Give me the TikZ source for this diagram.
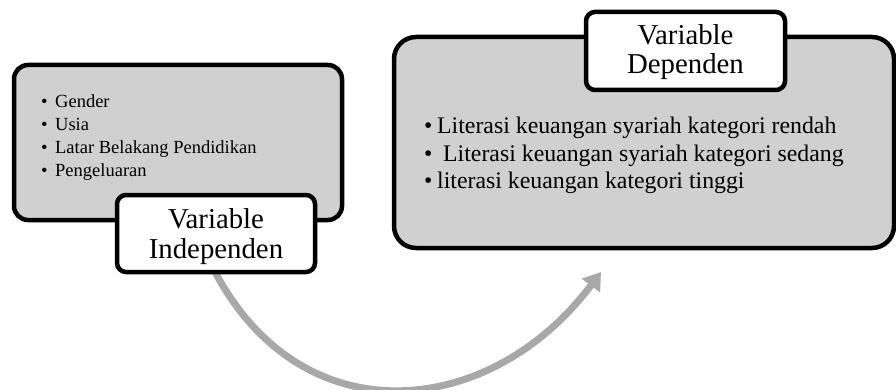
\documentclass[tikz,border=0pt]{standalone}
\usepackage{fontspec}
\setmainfont{Liberation Serif}
\usetikzlibrary{arrows.meta}
\definecolor{boxgray}{RGB}{208,208,208}
\definecolor{arrgray}{RGB}{168,168,168}
\tikzset{
  bigbox/.style={draw=black, fill=boxgray, line width=4.5pt, rounded corners=14pt, inner sep=0pt},
  labelbox/.style={draw=black, fill=white, line width=4.5pt, rounded corners=9pt, inner sep=0pt},
  smalltxt/.style={anchor=base west, inner sep=0pt, font=\fontsize{18.5}{22}\selectfont},
  midtxt/.style={anchor=base west, inner sep=0pt, font=\fontsize{23.8}{27}\selectfont},
  labtxt/.style={anchor=base, inner sep=0pt, font=\fontsize{28.8}{30}\selectfont},
  flowarrow/.style={draw=arrgray, line width=7pt, -{Triangle[width=22pt,length=17pt]}}
}
\begin{document}
\begin{tikzpicture}[x=1pt,y=-1pt]
\useasboundingbox (0,0) rectangle (896,390);
% arrow (behind boxes)
\coordinate (arrstart) at (213,268);
\coordinate (arrend) at (601,272);
\draw[flowarrow] (arrstart) .. controls (300,438) and (490,420) .. (arrend);
% left box
\node[bigbox, minimum width=328pt, minimum height=155pt] (leftbox) at (178,142.5) {};
\node[smalltxt] (l1) at (41,107.7) {\makebox[14pt][l]{•}Gender};
\node[smalltxt] (l2) at (41,130.7) {\makebox[14pt][l]{•}Usia};
\node[smalltxt] (l3) at (41,154) {\makebox[14pt][l]{•}Latar Belakang Pendidikan};
\node[smalltxt] (l4) at (41,177) {\makebox[14pt][l]{•}Pengeluaran};
\node[labelbox, minimum width=198pt, minimum height=77pt] (indep) at (216,233.5) {};
\node[labtxt] (indep1) at (216,228) {Variable};
\node[labtxt] (indep2) at (216,258) {Independen};
% right box
\node[bigbox, rounded corners=22pt, minimum width=500pt, minimum height=211pt] (rightbox) at (644,142.5) {};
\node[midtxt] (r1) at (424,133.3) {\makebox[13pt][l]{•}Literasi keuangan syariah kategori rendah};
\node[midtxt] (r2) at (424,161.5) {\makebox[19pt][l]{•}Literasi keuangan syariah kategori sedang};
\node[midtxt] (r3) at (424,188.5) {\makebox[13pt][l]{•}literasi keuangan kategori tinggi};
\node[labelbox, minimum width=199pt, minimum height=78pt] (dep) at (685.5,51) {};
\node[labtxt] (dep1) at (685.5,45) {Variable};
\node[labtxt] (dep2) at (685.5,74) {Dependen};
\end{tikzpicture}
\end{document}
